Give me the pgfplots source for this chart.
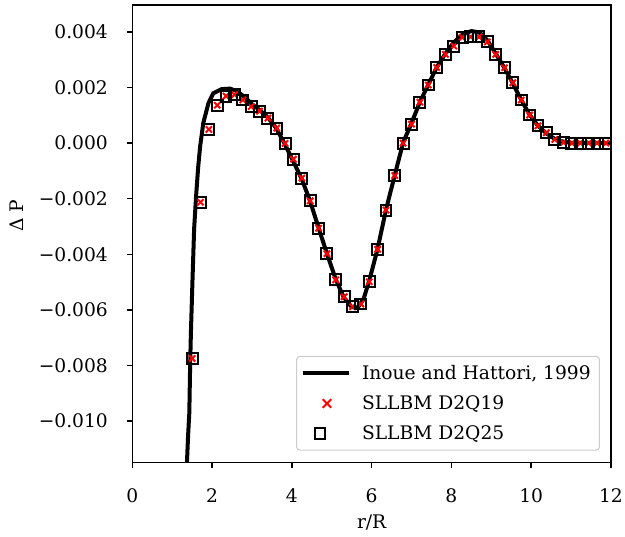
\documentclass[border=0pt]{standalone}
\usepackage{pgfplots}
\pgfplotsset{compat=1.18}
\usepackage{pgfplotstable}
\usepackage{fontspec}
\setmainfont{DejaVu Serif}

\pgfplotsset{
  mylinelegend/.style={legend image code/.code={\draw[##1] (0pt,0pt) -- (34.5pt,0pt); \path[draw=none,fill=none] (0pt,0pt) -- (41pt,0pt);}},
  myxlegend/.style={legend image code/.code={\path[draw=none,fill=none] (0pt,0pt) -- (41pt,0pt);
     \draw[red, line width=1.5pt, sharp corners] (15.1pt,-3.2pt) -- (21.5pt,3.2pt) (15.1pt,3.2pt) -- (21.5pt,-3.2pt);}},
  mysqlegend/.style={legend image code/.code={\path[draw=none,fill=none] (0pt,0pt) -- (41pt,0pt);
     \draw[black, line width=1.5pt, sharp corners] (9.1pt,-4pt) -- (17.1pt,-4pt) -- (17.1pt,4pt) -- (9.1pt,4pt) -- cycle;}},
}

\pgfplotstableread{
x y
1.37 -0.0115
1.40 -0.0105
1.43 -0.0097
1.45 -0.0080
1.47 -0.0068
1.51 -0.0049
1.55 -0.0031
1.60 -0.0019
1.65 -0.0009
1.70 -0.00013
1.78 0.00072
1.91 0.00144
2.03 0.00179
2.24 0.00194
2.45 0.00196
2.60 0.00188
2.80 0.00168
3.00 0.00140
3.20 0.00118
3.40 0.00092
3.60 0.00055
3.80 0.00003
4.00 -0.00055
4.25 -0.00130
4.46 -0.00210
4.67 -0.00305
4.88 -0.00398
5.10 -0.00490
5.30 -0.00555
5.50 -0.00590
5.65 -0.00592
5.80 -0.00560
5.95 -0.00490
6.15 -0.00380
6.36 -0.00240
6.58 -0.00115
6.79 0.00002
7.00 0.00072
7.21 0.00148
7.42 0.00210
7.63 0.00272
7.85 0.00322
8.06 0.00362
8.27 0.00390
8.50 0.00403
8.70 0.00398
8.90 0.00370
9.11 0.00322
9.33 0.00270
9.54 0.00215
9.75 0.00155
9.96 0.00102
10.17 0.00062
10.38 0.00035
10.59 0.00015
10.81 0.00005
11.00 0.00001
12.00 0.00000
}\refdata

\pgfplotstableread{
x y
1.50 -0.00775
1.71 -0.00213
1.92 0.00049
2.13 0.00136
2.35 0.00169
2.56 0.00174
2.77 0.00155
2.98 0.00131
3.19 0.00115
3.40 0.00090
3.62 0.00054
3.83 -0.00001
4.04 -0.00058
4.25 -0.00126
4.46 -0.00208
4.67 -0.00306
4.88 -0.00398
5.10 -0.00492
5.31 -0.00553
5.52 -0.00589
5.73 -0.00579
5.94 -0.00499
6.15 -0.00382
6.36 -0.00241
6.58 -0.00117
6.79 0.00000
7.00 0.00068
7.21 0.00147
7.42 0.00209
7.63 0.00272
7.85 0.00319
8.06 0.00349
8.27 0.00380
8.48 0.00382
8.69 0.00382
8.90 0.00364
9.11 0.00319
9.33 0.00271
9.54 0.00217
9.75 0.00155
9.96 0.00101
10.17 0.00062
10.38 0.00037
10.59 0.00013
10.81 0.00002
11.02 0.00000
11.23 0.00000
11.44 0.00000
11.65 0.00000
11.87 0.00000
}\simdata

\begin{document}
\begin{tikzpicture}[font=\fontsize{14}{17}\selectfont]
\useasboundingbox (-99.2pt,-55pt) rectangle (369.5pt,347pt);
\begin{axis}[
  at={(0,0)}, anchor=south west,
  scale only axis, width=359pt, height=343.3pt,
  xmin=0, xmax=12, ymin=-0.0115, ymax=0.00497,
  axis line style={line width=1.1pt},
  every tick/.style={black, line width=1.1pt},
  tick align=outside, major tick length=3.7pt,
  xtick={0,2,4,6,8,10,12},
  xticklabels={0,2,4,6,8,10,12},
  ytick={-0.010,-0.008,-0.006,-0.004,-0.002,0,0.002,0.004},
  yticklabels={−0.010,−0.008,−0.006,−0.004,−0.002,0.000,0.002,0.004},
  scaled y ticks=false, scaled x ticks=false,
  xtick pos=bottom, ytick pos=left,
  xticklabel style={anchor=base, inner sep=0pt, yshift=-26.2pt},
  yticklabel style={anchor=east, inner sep=0pt, xshift=-14.4pt},
  xlabel={r/R}, ylabel={Δ P},
  xlabel style={at={(axis description cs:0.5,-0.131)}, anchor=center},
  ylabel style={at={(axis description cs:-0.241,0.54)}, anchor=center},
  legend style={at={(rel axis cs:1,0)}, anchor=south east, xshift=-8.25pt, yshift=9pt,
    draw=black!20, line width=0.8pt, rounded corners=2.5pt, fill=white,
    row sep=3.4pt, inner sep=3pt,
    nodes={inner sep=3.6pt}},
  legend cell align=left,
]
\addplot[black, line width=3pt, mylinelegend] table[x=x,y=y] {\refdata};
\addlegendentry{Inoue and Hattori, 1999}
\addplot[only marks, red, mark=x, mark size=3.3pt, line width=1.5pt, myxlegend] table[x=x,y=y] {\simdata};
\addlegendentry{SLLBM D2Q19}
\addplot[only marks, black, mark=square, mark size=4.1pt, line width=1.5pt, mysqlegend] table[x=x,y=y] {\simdata};
\addlegendentry{SLLBM D2Q25}
\end{axis}
\end{tikzpicture}
\end{document}
